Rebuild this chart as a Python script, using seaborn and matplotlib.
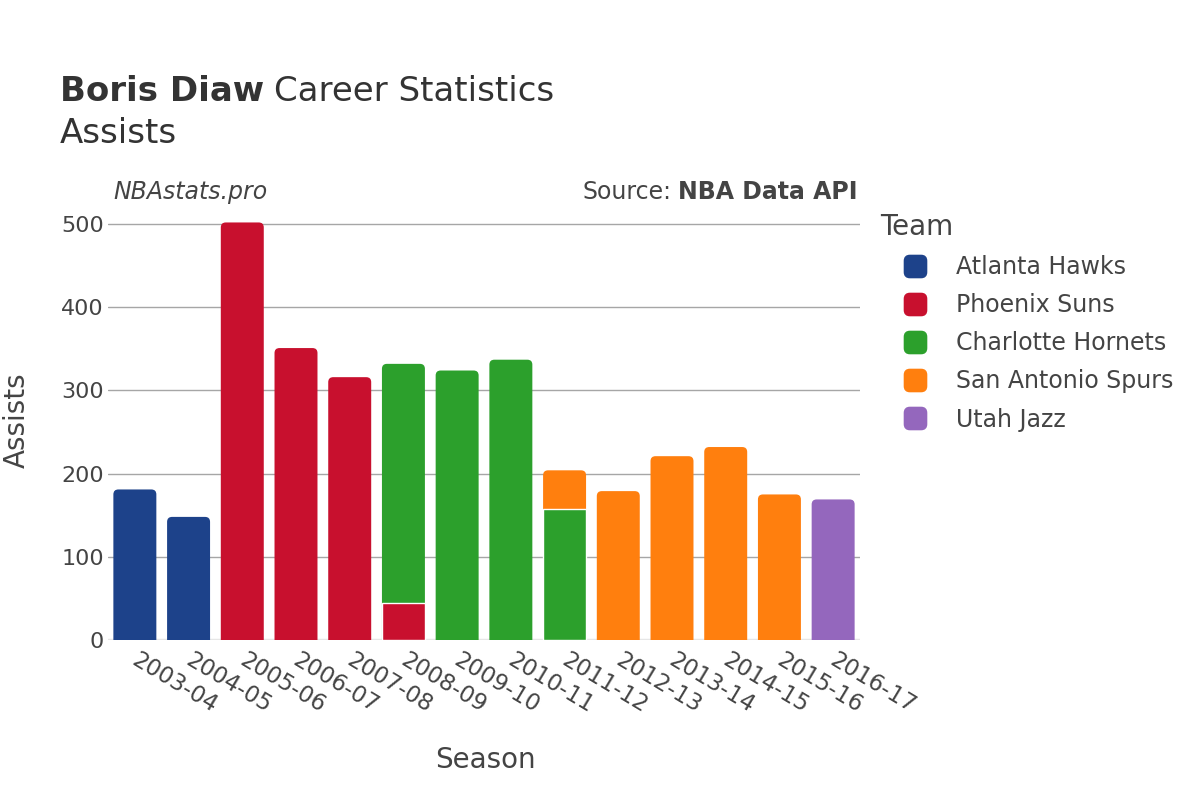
import numpy as np
import pandas as pd
import matplotlib.pyplot as plt
import seaborn as sns
import matplotlib.transforms as mtransforms
from matplotlib.path import Path
from matplotlib.patches import PathPatch, Rectangle
from matplotlib.lines import Line2D

# Season list and team palette
seasons = ["2003-04", "2004-05", "2005-06", "2006-07", "2007-08", "2008-09", "2009-10",
           "2010-11", "2011-12", "2012-13", "2013-14", "2014-15", "2015-16", "2016-17"]
teams = ["Atlanta Hawks", "Phoenix Suns", "Charlotte Hornets", "San Antonio Spurs", "Utah Jazz"]
team_colors = ["#1d428a", "#c8102e", "#2ca02c", "#ff7f0e", "#9467bd"]

# one row per stint, in the order played (mid-season trades give two rows)
stint_season = ["2003-04", "2004-05", "2005-06", "2006-07", "2007-08", "2008-09", "2008-09",
                "2009-10", "2010-11", "2011-12", "2011-12", "2012-13", "2013-14", "2014-15",
                "2015-16", "2016-17"]
stint_team = ["Atlanta Hawks", "Atlanta Hawks", "Phoenix Suns", "Phoenix Suns", "Phoenix Suns",
              "Phoenix Suns", "Charlotte Hornets", "Charlotte Hornets", "Charlotte Hornets",
              "Charlotte Hornets", "San Antonio Spurs", "San Antonio Spurs", "San Antonio Spurs",
              "San Antonio Spurs", "San Antonio Spurs", "Utah Jazz"]
stint_assists = [181, 148, 502, 351, 316, 45, 287, 324, 337, 157, 47, 179, 221, 232, 175, 169]

df = pd.DataFrame({"season": stint_season, "team": stint_team, "assists": stint_assists})
df["top"] = df.groupby("season")["assists"].cumsum()
totals = df.groupby("season")["assists"].sum()

TXT = "#444444"
sns.set_theme(style="white")
plt.rcParams["font.family"] = ["DejaVu Sans"]
plt.rcParams["text.color"] = TXT

fig = plt.figure(figsize=(12, 8), dpi=100)
ax = fig.add_axes([108 / 1200, 160 / 800, 752 / 1200, 440 / 800])

# draw cumulative heights, tallest first so earlier stints sit on top
for team, col in reversed(list(zip(teams, team_colors))):
    sub = df[df["team"] == team]
    sns.barplot(data=sub, x="season", y="top", order=seasons, color=col, saturation=1,
                width=0.8, edgecolor="white", linewidth=1, ax=ax, zorder=2)

ax.set_xlim(-0.5, len(seasons) - 0.5)
ax.set_ylim(0, 529)


def rounded_top(x0, y0, w, h, rx, ry):
    verts = [(x0, y0), (x0, y0 + h - ry), (x0, y0 + h), (x0 + rx, y0 + h),
             (x0 + w - rx, y0 + h), (x0 + w, y0 + h), (x0 + w, y0 + h - ry),
             (x0 + w, y0), (x0, y0)]
    codes = [Path.MOVETO, Path.LINETO, Path.CURVE3, Path.CURVE3, Path.LINETO,
             Path.CURVE3, Path.CURVE3, Path.LINETO, Path.CLOSEPOLY]
    return Path(verts, codes)


# round the top corners of the full-height bars (about 5 px)
rx = 5 / (752 / len(seasons))
ry = 5 / (440 / 529)
for p in list(ax.patches):
    if not isinstance(p, Rectangle):
        continue
    x0, w, h = p.get_x(), p.get_width(), p.get_height()
    if h <= 0:
        continue
    idx = int(round(x0 + w / 2))
    if abs(h - totals[seasons[idx]]) < 0.5:
        fc = p.get_facecolor()
        p.remove()
        ax.add_patch(PathPatch(rounded_top(x0, 0, w, h, rx, ry), facecolor=fc,
                               edgecolor="none", zorder=2))
    else:
        # lower stint of a split season goes over the full bar
        p.set_zorder(3)

# grid and axis styling
ax.set_axisbelow(True)
ax.grid(axis="y", color="#a6a6a6", linewidth=1)
ax.grid(axis="x", visible=False)
ax.set_yticks([0, 100, 200, 300, 400, 500])
ax.axhline(0, color="#e6e6e6", linewidth=2.5, zorder=1)
for s in ax.spines.values():
    s.set_visible(False)
ax.tick_params(axis="y", length=0, pad=3, labelsize=16, labelcolor=TXT)
ax.tick_params(axis="x", length=0, pad=6, labelsize=16.5, labelcolor=TXT)
ax.set_xticks(range(len(seasons)))
ax.set_xticklabels(seasons, rotation=-31, ha="left", va="top", rotation_mode="anchor")
shift = mtransforms.ScaledTranslation(5 / 100, 0, fig.dpi_scale_trans)
for lab in ax.get_xticklabels():
    lab.set_transform(lab.get_transform() + shift)
ax.set_xlabel("")
ax.set_ylabel("")

# titles and notes
r = fig.canvas.get_renderer()
t1 = fig.text(60 / 1200, 1 - 101 / 800, "Boris Diaw", fontsize=24.5, fontweight="bold",
              color="#333333", va="baseline")
bb = t1.get_window_extent(renderer=r)
fig.text(bb.x1 / 1200 + 0.008, 1 - 101 / 800, "Career Statistics", fontsize=24.5,
         color="#333333", va="baseline")
fig.text(60 / 1200, 1 - 143 / 800, "Assists", fontsize=24.5, color="#333333", va="baseline")
fig.text(113 / 1200, 1 - 199 / 800, "NBAstats.pro", fontsize=17, style="italic",
         color=TXT, va="baseline")
t2 = fig.text(858 / 1200, 1 - 199 / 800, "NBA Data API", fontsize=17, fontweight="bold",
              color=TXT, va="baseline", ha="right")
bb2 = t2.get_window_extent(renderer=r)
fig.text(bb2.x0 / 1200 - 0.006, 1 - 199 / 800, "Source:", fontsize=17, color=TXT,
         va="baseline", ha="right")

fig.text(485 / 1200, 1 - 760 / 800, "Season", fontsize=20, color=TXT, ha="center", va="center")
fig.text(17 / 1200, 1 - 420 / 800, "Assists", fontsize=20, color=TXT, ha="center",
         va="center", rotation=90)

# legend with rounded square swatches
rs = Path([(-1, -0.5), (-1, 0.5), (-1, 1), (-0.5, 1), (0.5, 1), (1, 1), (1, 0.5),
           (1, -0.5), (1, -1), (0.5, -1), (-0.5, -1), (-1, -1), (-1, -0.5), (-1, -0.5)],
          [Path.MOVETO, Path.LINETO, Path.CURVE3, Path.CURVE3, Path.LINETO, Path.CURVE3,
           Path.CURVE3, Path.LINETO, Path.CURVE3, Path.CURVE3, Path.LINETO, Path.CURVE3,
           Path.CURVE3, Path.CLOSEPOLY])
handles = [Line2D([0], [0], marker=rs, linestyle="", markersize=16, markerfacecolor=c,
                  markeredgecolor=c) for c in team_colors]
leg = fig.legend(handles, teams, loc="upper left", bbox_to_anchor=(868 / 1200, 1 - 201 / 800),
                 frameon=False, fontsize=17, title="Team", title_fontsize=20,
                 labelspacing=0.6, handletextpad=0.25, handlelength=2.97, borderpad=0,
                 alignment="left", labelcolor=TXT)
leg.get_title().set_color(TXT)

fig.savefig("out.png", dpi=100)
